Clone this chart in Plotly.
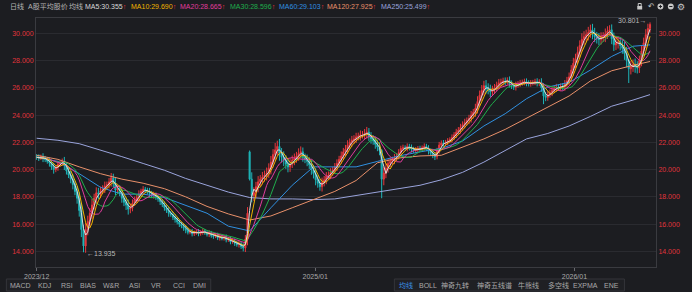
import plotly.graph_objects as go
import pandas as pd

# ---------------- data (2-trading-day bars) ----------------
CLOSE = [
    20.90, 20.85, 20.95, 20.80, 20.75, 20.60, 20.50, 20.20, 20.00, 20.15,
    20.40, 20.50, 20.60, 20.30, 19.90, 19.60, 19.30, 18.90, 18.40, 17.90,
    17.00, 15.60, 14.40, 15.60, 16.20, 16.80, 17.40, 17.90, 18.30, 18.20,
    18.45, 18.60, 18.80, 18.90, 19.10, 19.40, 19.00, 18.50, 18.60, 18.30,
    17.90, 17.60, 17.40, 17.10, 17.20, 17.55, 17.80, 17.95, 18.20, 18.40,
    18.55, 18.45, 18.40, 18.25, 18.10, 18.15, 17.95, 17.85, 17.65, 17.45,
    17.20, 17.00, 16.80, 16.70, 16.50, 16.35, 16.15, 16.00, 15.85, 15.70,
    15.55, 15.40, 15.45, 15.30, 15.35, 15.45, 15.30, 15.40, 15.50, 15.35,
    15.25, 15.35, 15.15, 15.10, 15.20, 15.00, 15.05, 14.95, 15.05, 14.85,
    14.90, 14.70, 14.75, 14.60, 14.50, 14.55, 14.35, 14.25, 14.90, 16.80,
    19.30, 18.10, 18.30, 18.75, 19.10, 19.30, 19.45, 19.60, 19.75, 20.10,
    20.55, 21.10, 21.45, 21.70, 21.20, 20.90, 20.70, 20.40, 20.20, 20.45,
    20.70, 20.80, 21.00, 21.20, 21.30, 20.90, 20.75, 20.60, 20.35, 20.00,
    19.70, 19.25, 19.00, 18.75, 19.05, 19.25, 19.50, 19.60, 19.80, 19.95,
    20.20, 20.45, 20.75, 21.00, 21.30, 21.50, 21.80, 22.00, 22.15, 22.25,
    22.40, 22.45, 22.55, 22.55, 22.65, 22.75, 22.40, 22.25, 22.10, 21.85,
    21.65, 21.40, 19.30, 19.75, 20.10, 20.45, 20.60, 20.70, 20.85, 21.00,
    21.25, 21.55, 21.60, 21.55, 21.70, 21.60, 21.50, 21.40, 21.45, 21.55,
    21.50, 21.60, 21.70, 21.55, 21.35, 21.20, 21.05, 20.95, 21.40, 21.80,
    21.95, 21.90, 22.00, 22.10, 22.20, 22.35, 22.55, 22.75, 22.90, 23.10,
    23.30, 23.45, 23.60, 23.75, 24.00, 24.20, 24.50, 25.00, 25.45, 25.80,
    26.15, 26.00, 25.85, 25.70, 25.85, 26.00, 26.20, 26.35, 26.40, 26.50,
    26.45, 26.55, 26.30, 26.15, 26.05, 26.20, 26.30, 26.35, 26.40, 26.45,
    26.35, 26.30, 26.35, 26.40, 26.45, 26.35, 26.40, 26.00, 25.40, 25.30,
    25.50, 25.65, 25.80, 25.95, 26.05, 26.00, 26.10, 26.05, 26.30, 26.50,
    26.80, 27.30, 27.80, 28.15, 28.60, 29.10, 29.55, 29.75, 29.90, 30.05,
    30.25, 30.00, 29.75, 29.60, 29.55, 29.70, 29.75, 29.95, 30.15, 30.25,
    29.60, 29.15, 29.30, 29.35, 29.10, 28.90, 28.50, 28.00, 27.40, 27.55,
    27.70, 27.55, 27.45, 28.00, 28.70, 29.30, 29.90, 30.35, 30.65,
]
# high/low reach beyond the body for each bar (wick length)
SPREAD = [
    .18, .22, .15, .25, .20, .17, .28, .22, .30, .19,
    .24, .16, .21, .33, .26, .22, .30, .35, .28, .40,
    .45, .55, .35, .50, .42, .38, .45, .33, .40, .36,
    .30, .25, .32, .22, .28, .35, .30, .38, .27, .25,
    .33, .28, .36, .40, .30, .26, .22, .25, .28, .20,
    .24, .18, .22, .26, .19, .23, .17, .21, .25, .20,
    .22, .18, .26, .16, .20, .24, .17, .21, .15, .19,
    .22, .16, .14, .20, .17, .13, .19, .15, .18, .14,
    .16, .20, .15, .18, .13, .17, .21, .14, .16, .19,
    .15, .18, .14, .20, .16, .22, .18, .25, .30, .45,
    .10, .50, .40, .35, .42, .30, .38, .33, .40, .36,
    .45, .40, .50, .42, .55, .38, .44, .35, .40, .37,
    .33, .38, .30, .36, .40, .32, .28, .35, .30, .38,
    .35, .40, .33, .30, .36, .28, .32, .26, .30, .25,
    .28, .30, .26, .33, .29, .31, .35, .28, .32, .27,
    .30, .26, .32, .28, .33, .38, .30, .35, .28, .32,
    .30, .35, .10, .45, .38, .32, .28, .25, .30, .22,
    .25, .20, .23, .18, .22, .19, .24, .17, .21, .18,
    .20, .17, .22, .19, .24, .18, .21, .25, .20, .23,
    .19, .22, .18, .21, .17, .23, .20, .24, .22, .26,
    .24, .28, .22, .27, .30, .25, .33, .38, .35, .40,
    .36, .42, .33, .38, .30, .28, .25, .30, .27, .24,
    .26, .22, .28, .24, .21, .25, .19, .23, .20, .22,
    .24, .20, .22, .18, .21, .25, .23, .30, .35, .28,
    .25, .22, .26, .20, .24, .19, .22, .25, .27, .30,
    .32, .36, .40, .35, .42, .38, .45, .40, .36, .42,
    .38, .44, .40, .35, .42, .37, .33, .40, .36, .34,
    .40, .45, .38, .42, .36, .40, .45, .50, .10, .42,
    .38, .45, .40, .36, .42, .38, .40, .35, .30,
]
FIRST_OPEN = 20.95
OPEN_OVERRIDE = {100: 21.30, 162: 21.40}
HIGH_OVERRIDE = {100: 21.40, 288: 30.801}
LOW_OVERRIDE = {22: 13.935, 162: 17.90, 238: 24.80, 278: 26.35}

MA_SAMPLE_BARS = list(range(0, 281, 10)) + [288]
MA60 = [20.9, 20.6, 19.7, 18.7, 18.2, 18.2, 17.95, 17.4, 16.8, 15.85,
        15.5, 17.2, 18.85, 20.2, 20.2, 20.2, 20.6, 21.0, 21.3, 21.55,
        22.1, 23.2, 24.1, 25.2, 26.05, 26.4, 27.3, 28.3, 29.05, 29.15]
MA120 = [21.05, 20.75, 20.2, 19.7, 19.3, 19.0, 18.6, 18.0, 17.3, 16.75,
         16.3, 16.6, 17.2, 17.8, 18.4, 19.2, 20.5, 20.85, 21.0, 21.05,
         21.65, 22.25, 22.95, 23.75, 24.55, 25.4, 26.5, 27.25, 27.65, 27.93]
MA250 = [22.3, 22.15, 21.9, 21.45, 20.95, 20.45, 19.95, 19.35, 18.85, 18.35,
         17.95, 17.85, 17.85, 17.8, 17.85, 18.1, 18.35, 18.55, 18.85, 19.25,
         19.8, 20.55, 21.4, 22.25, 22.65, 23.2, 23.9, 24.65, 25.1, 25.5]

X_TICK_BARS = [0, 130.8, 252.5]
X_TICK_TEXT = ["2023/12", "2025/01", "2026/01"]
Y_TICKS = [14, 16, 18, 20, 22, 24, 26, 28, 30]

HEADER = [("日线", "#b4b4b4"), ("A股平均股价", "#b4b4b4"), ("均线", "#b4b4b4"),
          ("MA5:30.355", "#d8d8d8"), ("MA10:29.690", "#f0b400"),
          ("MA20:28.665", "#e03c9c"), ("MA30:28.596", "#1fae4c"),
          ("MA60:29.103", "#3090e0"), ("MA120:27.925", "#e8906a"),
          ("MA250:25.499", "#9aa4dc")]
LEFT_BUTTONS = ["MACD", "KDJ", "RSI", "BIAS", "W&amp;R", "ASI", "VR", "CCI", "DMI"]
RIGHT_BUTTONS = ["均线", "BOLL", "神奇九转", "神奇五线谱", "牛熊线", "多空线", "EXPMA", "ENE"]

# ---------------- build ----------------
bars = list(range(len(CLOSE)))
opens, highs, lows = [], [], []
for i, c in enumerate(CLOSE):
    o = OPEN_OVERRIDE.get(i, FIRST_OPEN if i == 0 else CLOSE[i - 1])
    opens.append(o)
    highs.append(HIGH_OVERRIDE.get(i, max(o, c) + SPREAD[i]))
    lows.append(LOW_OVERRIDE.get(i, min(o, c) - SPREAD[i]))

s = pd.Series(CLOSE)
ma5 = s.rolling(3, min_periods=1).mean()
ma10 = s.rolling(5, min_periods=1).mean()
ma20 = s.rolling(10, min_periods=1).mean()
ma30 = s.rolling(15, min_periods=1).mean()

BG = "#1c1d21"
UP = "#e8383d"
DN = "#1eb4b8"
FONT = "Liberation Sans, Noto Sans CJK SC, sans-serif"
ML, MR, MT, MB = 33, 31, 18, 25
W, H = 692, 292
PW, PH = W - ML - MR, H - MT - MB


def px(xp):
    return (xp - ML) / PW


def py(yp):
    return (H - MB - yp) / PH


fig = go.Figure()
fig.add_trace(go.Candlestick(
    x=bars, open=opens, high=highs, low=lows, close=CLOSE,
    increasing=dict(line=dict(color=UP, width=1), fillcolor=UP),
    decreasing=dict(line=dict(color=DN, width=1), fillcolor=DN),
    whiskerwidth=0, showlegend=False, hoverinfo="skip"))

lines = [(MA_SAMPLE_BARS, MA250, "#9aa4dc"), (MA_SAMPLE_BARS, MA120, "#e8906a"),
         (MA_SAMPLE_BARS, MA60, "#3090e0"), (bars, ma30, "#1fae4c"),
         (bars, ma20, "#e03c9c"), (bars, ma10, "#f0b400"), (bars, ma5, "#dcdcdc")]
for xs, ys, col in lines:
    fig.add_trace(go.Scatter(x=xs, y=list(ys), mode="lines",
                             line=dict(color=col, width=1), showlegend=False,
                             hoverinfo="skip"))
# anchor trace for right axis
fig.add_trace(go.Scatter(x=[0], y=[20], yaxis="y2", mode="markers",
                         marker=dict(opacity=0), showlegend=False, hoverinfo="skip"))

YR = [12.855, 31.12]
axis_font = dict(family=FONT, size=7, color="#e0343c")
fig.update_layout(
    width=W, height=H, margin=dict(l=ML, r=MR, t=MT, b=MB),
    paper_bgcolor=BG, plot_bgcolor=BG,
    xaxis=dict(range=[-0.3, 290.8], tickvals=X_TICK_BARS, ticktext=X_TICK_TEXT,
               showgrid=False, zeroline=False, showline=True, linecolor="#3a3b40",
               mirror=True, ticks="outside", ticklen=3, tickcolor="#6a6b70",
               tickfont=dict(family=FONT, size=7, color="#a8a8a8"),
               rangeslider=dict(visible=False)),
    yaxis=dict(range=YR, tickvals=Y_TICKS, tickformat=".3f", tickfont=axis_font,
               showgrid=True, gridcolor="#2a2b30", gridwidth=1, zeroline=False,
               showline=True, linecolor="#3a3b40", ticks=""),
    yaxis2=dict(range=YR, tickvals=Y_TICKS, tickformat=".3f", tickfont=axis_font,
                overlaying="y", side="right", showgrid=False, zeroline=False,
                showline=True, linecolor="#3a3b40", ticks=""),
    hovermode=False,
)

ann = []
hx = [5, 23, 64, 81, 127, 177, 227, 277, 326, 380]
for i, ((t, col), xp) in enumerate(zip(HEADER, hx)):
    text = t if i < 3 else t + '<span style="color:#e8323c">↑</span>'
    ann.append(dict(xref="paper", yref="paper", x=px(xp), y=py(7), text=text,
                    xanchor="left", yanchor="middle", showarrow=False,
                    font=dict(family=FONT, size=7, color=col)))

lbx = [17, 42, 64, 86, 109, 133, 155, 178, 199]
for t, xp in zip(LEFT_BUTTONS, lbx):
    ann.append(dict(xref="paper", yref="paper", x=px(xp), y=py(285), text=t,
                    xanchor="center", yanchor="middle", showarrow=False,
                    font=dict(family=FONT, size=7, color="#a8a8a8")))
rbx = [408, 430, 457, 497, 532, 562, 590, 616]
for i, (t, xp) in enumerate(zip(RIGHT_BUTTONS, rbx)):
    ann.append(dict(xref="paper", yref="paper", x=px(xp), y=py(285), text=t,
                    xanchor="center", yanchor="middle", showarrow=False,
                    font=dict(family=FONT, size=7,
                              color="#3a8ee6" if i == 0 else "#a8a8a8")))

ann.append(dict(xref="x", yref="y", x=288, y=30.801, text="30.801→",
                xanchor="right", yanchor="middle", xshift=-2, yshift=2,
                showarrow=False, font=dict(family=FONT, size=7, color="#b8b8b8")))
ann.append(dict(xref="x", yref="y", x=22, y=13.935, text="←13.935",
                xanchor="left", yanchor="middle", xshift=1, yshift=-1,
                showarrow=False, font=dict(family=FONT, size=7, color="#b8b8b8")))
# top-right icons
ann.append(dict(xref="paper", yref="paper", x=px(655.5), y=py(6.5), text="↶",
                xanchor="center", yanchor="middle", showarrow=False,
                font=dict(family="DejaVu Sans", size=8, color="#c8c8c8")))
ann.append(dict(xref="paper", yref="paper", x=px(686.5), y=py(6.5), text="⚙",
                xanchor="center", yanchor="middle", showarrow=False,
                font=dict(family="DejaVu Sans", size=9, color="#c8c8c8")))
fig.update_layout(annotations=ann)

shapes = []
for x0, x1 in [(3, 210), (396, 629)]:
    shapes.append(dict(type="rect", xref="paper", yref="paper",
                       x0=px(x0), x1=px(x1), y0=py(279), y1=py(291),
                       line=dict(color="#34353a", width=1), fillcolor="#1f2024",
                       layer="below"))
# lock icon
shapes.append(dict(type="rect", xref="paper", yref="paper", x0=px(642), x1=px(647),
                   y0=py(9.5), y1=py(6), line=dict(width=0), fillcolor="#c8c8c8"))
shapes.append(dict(type="rect", xref="paper", yref="paper", x0=px(643), x1=px(646),
                   y0=py(6.5), y1=py(3.5), line=dict(color="#c8c8c8", width=1),
                   fillcolor="rgba(0,0,0,0)"))
for cx, sym in [(665.5, "+"), (676, "-")]:
    shapes.append(dict(type="circle", xref="paper", yref="paper",
                       x0=px(cx - 3), x1=px(cx + 3), y0=py(3.5), y1=py(9.5),
                       line=dict(width=0), fillcolor="#c8c8c8"))
    shapes.append(dict(type="line", xref="paper", yref="paper",
                       x0=px(cx - 1.6), x1=px(cx + 1.6), y0=py(6.5), y1=py(6.5),
                       line=dict(color=BG, width=1)))
    if sym == "+":
        shapes.append(dict(type="line", xref="paper", yref="paper",
                           x0=px(cx), x1=px(cx), y0=py(4.9), y1=py(8.1),
                           line=dict(color=BG, width=1)))
fig.update_layout(shapes=shapes)

fig.write_html("out.html")
